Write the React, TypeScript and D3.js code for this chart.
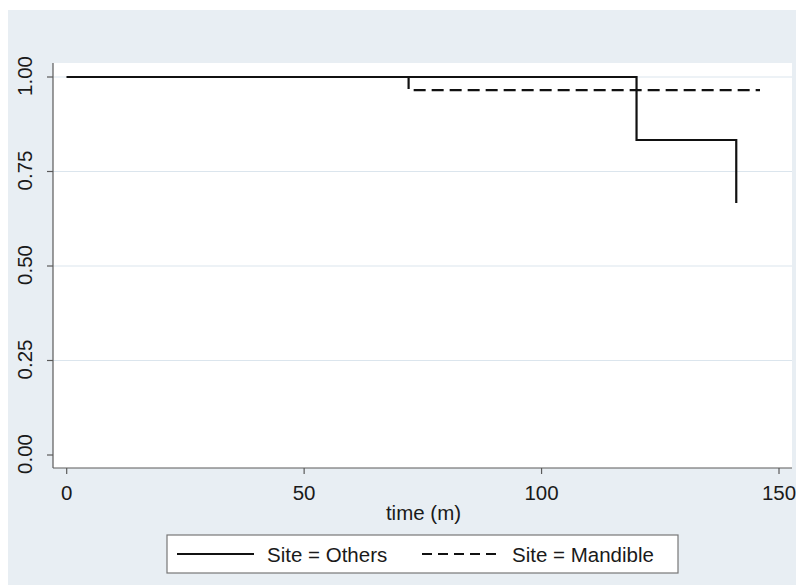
import React from "react";
import * as d3 from "d3";

const othersTimes = [0, 120, 141];
const othersSurv = [1, 0.8333, 0.6667];
const mandibleTimes = [0, 72, 146];
const mandibleSurv = [1, 0.9655, 0.9655];
const xTicks = [0, 50, 100, 150];
const yTicks = [0, 0.25, 0.5, 0.75, 1];
const gridTicks = [0.25, 0.5, 0.75, 1];
const legendLabels = ["Site = Others", "Site = Mandible"];
const xLabel = "time (m)";

const W = 796;
const H = 585;
const plot = { left: 53, right: 792, top: 63, bottom: 468 };

export default function App() {
  const x = d3.scaleLinear().domain([0, 150]).range([66.7, 779]);
  const y = d3.scaleLinear().domain([0, 1]).range([455, 77]);
  const line = d3
    .line<[number, number]>()
    .x((d) => x(d[0]))
    .y((d) => y(d[1]))
    .curve(d3.curveStepAfter);
  const others = othersTimes.map((t, i) => [t, othersSurv[i]] as [number, number]);
  const mandible = mandibleTimes.map((t, i) => [t, mandibleSurv[i]] as [number, number]);
  const font = "'Liberation Sans', Arial, sans-serif";
  const textCol = "#1a1a1a";
  const axisCol = "#5a5a5a";
  const fs = 20.5;

  return (
    <svg
      width={W}
      height={H}
      style={{ position: "absolute", left: 0, top: 0 }}
      fontFamily={font}
    >
      <rect x={0} y={0} width={W} height={H} fill="#ffffff" />
      <rect x={8} y={10} width={W - 8} height={H - 10} fill="#e8eef3" />
      <rect
        x={plot.left}
        y={plot.top}
        width={plot.right - plot.left}
        height={plot.bottom - plot.top}
        fill="#ffffff"
      />
      {gridTicks.map((t) => (
        <line
          key={"g" + t}
          x1={plot.left}
          x2={plot.right}
          y1={y(t)}
          y2={y(t)}
          stroke="#dbe5ed"
          strokeWidth={1.2}
        />
      ))}
      {/* axes */}
      <line x1={plot.left} x2={plot.left} y1={plot.top} y2={plot.bottom} stroke={axisCol} strokeWidth={1.2} />
      <line x1={plot.left} x2={plot.right} y1={plot.bottom} y2={plot.bottom} stroke={axisCol} strokeWidth={1.2} />
      {yTicks.map((t) => (
        <g key={"y" + t}>
          <line x1={plot.left - 6} x2={plot.left} y1={y(t)} y2={y(t)} stroke={axisCol} strokeWidth={1.2} />
          <text
            transform={`translate(32,${y(t) - 1}) rotate(-90)`}
            textAnchor="middle"
            fontSize={fs}
            fill={textCol}
          >
            {d3.format(".2f")(t)}
          </text>
        </g>
      ))}
      {xTicks.map((t) => (
        <g key={"x" + t}>
          <line x1={x(t)} x2={x(t)} y1={plot.bottom} y2={plot.bottom + 6} stroke={axisCol} strokeWidth={1.2} />
          <text x={x(t)} y={500} textAnchor="middle" fontSize={fs} fill={textCol}>
            {t}
          </text>
        </g>
      ))}
      <text x={423.5} y={520} textAnchor="middle" fontSize={fs} fill={textCol}>
        {xLabel}
      </text>
      {/* curves */}
      <path d={line(mandible) || ""} fill="none" stroke="#111" strokeWidth={2.2} strokeDasharray="12,6" />
      <path d={line(others) || ""} fill="none" stroke="#111" strokeWidth={2.2} />
      {/* legend */}
      <rect x={167} y={535} width={511} height={38} fill="#ffffff" stroke="#777" strokeWidth={1.2} />
      <line x1={177} x2={254} y1={554} y2={554} stroke="#111" strokeWidth={2.2} />
      <text x={267} y={561.5} fontSize={fs} fill={textCol}>
        {legendLabels[0]}
      </text>
      <line x1={422} x2={498} y1={554} y2={554} stroke="#111" strokeWidth={2.2} strokeDasharray="10,6" />
      <text x={512} y={561.5} fontSize={fs} fill={textCol}>
        {legendLabels[1]}
      </text>
    </svg>
  );
}
